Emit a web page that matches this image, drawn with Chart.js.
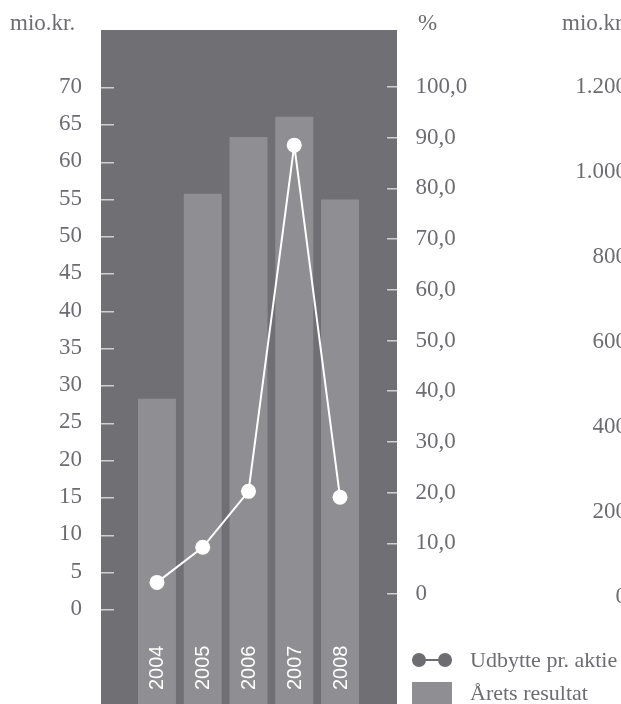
<!DOCTYPE html>
<html>
<head>
<meta charset="utf-8" />
<title>Udbytte og årets resultat</title>
<script src="https://cdn.jsdelivr.net/npm/chart.js"></script>
<style>
  html, body { margin: 0; padding: 0; background: #ffffff; overflow: hidden; width: 621px; height: 704px; }
  #wrap { position: relative; width: 660px; height: 704px; }
  .title { position: absolute; top: 11px; font: 23px "Liberation Serif", serif; line-height: 23px; color: #6d6c71; white-space: nowrap; }
  #legend { position: absolute; left: 412px; top: 647px; font: 22px "Liberation Serif", serif; color: #6d6c71; }
  #legend .row { display: flex; align-items: center; height: 26px; white-space: nowrap; }
  #legend .row + .row { margin-top: 7px; }
  #legend .icon { position: relative; width: 40px; margin-right: 18px; flex: none; }
  #legend .icon.line { height: 14px; background: linear-gradient(#6d6c71, #6d6c71) center / 100% 2px no-repeat; }
  #legend .icon.line::before, #legend .icon.line::after {
    content: ""; position: absolute; top: 0; width: 14px; height: 14px; border-radius: 50%; background: #6d6c71;
  }
  #legend .icon.line::before { left: 0; }
  #legend .icon.line::after { right: 0; }
  #legend .icon.box { height: 22px; background: #8f8e93; }
</style>
</head>
<body>
<div id="wrap">
  <canvas id="chart"></canvas>
  <div class="title" id="t0" style="left:10px"></div>
  <div class="title" id="t1" style="left:418px"></div>
  <div class="title" id="t2" style="left:562px"></div>
  <div id="legend"></div>
</div>
<script>
const YEARS = [2004, 2005, 2006, 2007, 2008];
const RESULT = [28.3, 55.8, 63.4, 66.1, 55.0];      // Årets resultat (bars)
const DIVIDEND = [3.7, 8.4, 15.9, 62.3, 15.1];      // Udbytte pr. aktie (line)
const LEFT_TICKS = [0, 5, 10, 15, 20, 25, 30, 35, 40, 45, 50, 55, 60, 65, 70];
const PCT_TICKS = [0, 10, 20, 30, 40, 50, 60, 70, 80, 90, 100];
const MIO_TICKS = [0, 200, 400, 600, 800, 1000, 1200];
const SERIES_NAMES = ['Udbytte pr. aktie', 'Årets resultat'];
const AXIS_TITLES = ['mio.kr.', '%', 'mio.kr.'];

const TEXT = '#6d6c71';
const PANEL = '#706f74';
const BAR = '#8f8e93';
const TICK = '#cfced2';
const tickFont = { family: '"Liberation Serif", serif', size: 23 };

AXIS_TITLES.forEach((t, i) => { document.getElementById('t' + i).textContent = t; });

function fixedTicks(values) {
  return scale => { scale.ticks = values.map(v => ({ value: v })); };
}
// fixed width, and no extra room above/below for the end labels
function fitTo(width) {
  return scale => {
    scale.width = width;
    scale.paddingTop = 0;
    scale.paddingBottom = 0;
  };
}
function pct(v) { return v === 0 ? '0' : v.toFixed(1).replace('.', ','); }
function thousands(v) { return String(v).replace(/\B(?=(\d{3})+(?!\d))/g, '.'); }

const panel = {
  id: 'panel',
  beforeDraw(chart) {
    const { ctx, chartArea: a } = chart;
    ctx.save();
    ctx.fillStyle = PANEL;
    ctx.fillRect(a.left, a.top, a.right - a.left, a.bottom - a.top);
    ctx.restore();
  }
};

// year labels sit rotated inside the bars at the bottom
const yearLabels = {
  id: 'yearLabels',
  afterDatasetsDraw(chart) {
    const { ctx, chartArea, scales: { x } } = chart;
    ctx.save();
    ctx.fillStyle = '#ffffff';
    ctx.font = '20px "Liberation Sans", sans-serif';
    ctx.textAlign = 'left';
    ctx.textBaseline = 'middle';
    YEARS.forEach(year => {
      ctx.save();
      ctx.translate(x.getPixelForValue(year) + 1, chartArea.bottom - 14);
      ctx.rotate(-Math.PI / 2);
      ctx.fillText(String(year), 0, 0);
      ctx.restore();
    });
    ctx.restore();
  }
};

const chart = new Chart(document.getElementById('chart'), {
  type: 'bar',
  data: {
    datasets: [
      {
        type: 'line',
        label: SERIES_NAMES[0],
        data: YEARS.map((y, i) => ({ x: y, y: DIVIDEND[i] })),
        yAxisID: 'y',
        borderColor: '#ffffff',
        borderWidth: 2,
        backgroundColor: '#ffffff',
        pointRadius: 7.5,
        pointBorderWidth: 0,
        tension: 0,
        legendIcon: 'line'
      },
      {
        type: 'bar',
        label: SERIES_NAMES[1],
        data: YEARS.map((y, i) => ({ x: y, y: RESULT[i] })),
        yAxisID: 'y',
        backgroundColor: BAR,
        base: -12.6,
        barPercentage: 0.83,
        categoryPercentage: 1,
        legendIcon: 'box'
      }
    ]
  },
  options: {
    responsive: true,
    maintainAspectRatio: false,
    animation: false,
    layout: { autoPadding: false, padding: { top: 30, left: 0, right: 33, bottom: 0 } },
    plugins: { legend: { display: false }, tooltip: { enabled: false } },
    scales: {
      x: {
        type: 'linear',
        min: 2002.777,
        max: 2009.245,
        offset: false,
        border: { display: false },
        grid: { display: false, drawTicks: false },
        ticks: { display: false },
        afterFit: s => { s.height = 0; s.paddingLeft = 0; s.paddingRight = 0; }
      },
      y: {
        position: 'left',
        min: -12.6,
        max: 77.73,
        afterBuildTicks: fixedTicks(LEFT_TICKS),
        afterFit: fitTo(101),
        border: { display: false },
        grid: { drawOnChartArea: false, tickLength: -13, color: TICK, lineWidth: 1.5 },
        ticks: { color: TEXT, font: tickFont, padding: 32, labelOffset: -1 }
      },
      y1: {
        position: 'right',
        min: -21.7,
        max: 111.24,
        afterBuildTicks: fixedTicks(PCT_TICKS),
        afterFit: fitTo(140),
        border: { display: false },
        grid: { drawOnChartArea: false, tickLength: -10, color: TICK, lineWidth: 1.5 },
        ticks: { color: TEXT, font: tickFont, padding: 28.5, callback: v => pct(v) }
      },
      y2: {
        position: 'right',
        min: -251.8,
        max: 1334.1,
        afterBuildTicks: fixedTicks(MIO_TICKS),
        afterFit: fitTo(90),
        border: { display: false },
        grid: { drawOnChartArea: false, drawTicks: false },
        ticks: { color: TEXT, font: tickFont, padding: 0, crossAlign: 'far', callback: v => thousands(v) }
      }
    }
  },
  plugins: [panel, yearLabels]
});

// html legend built from the datasets
const legendEl = document.getElementById('legend');
chart.data.datasets.forEach(ds => {
  const row = document.createElement('div');
  row.className = 'row';
  const icon = document.createElement('span');
  icon.className = 'icon ' + ds.legendIcon;
  const label = document.createElement('span');
  label.textContent = ds.label;
  row.appendChild(icon);
  row.appendChild(label);
  legendEl.appendChild(row);
});
</script>
</body>
</html>
